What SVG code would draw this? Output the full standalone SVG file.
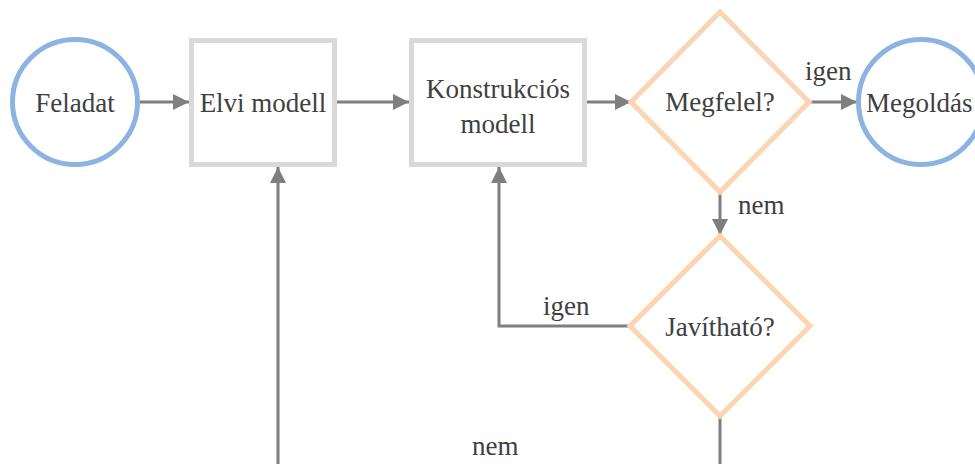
<svg xmlns="http://www.w3.org/2000/svg" width="975" height="464" viewBox="0 0 975 464">
<style>
.circ{fill:#fff;stroke:#8db3e2;stroke-width:5}
.box{fill:#fff;stroke:#d9d9d9;stroke-width:5}
.dia{fill:#fff;stroke:#fbd4b4;stroke-width:5}
.t{font-size:27px;fill:#404040;text-anchor:middle}
.lbl{font-size:27px;fill:#404040}
.c{fill:none;stroke:#7f7f7f;stroke-width:3}
</style>
<defs>
<marker id="ah" markerUnits="userSpaceOnUse" markerWidth="16" markerHeight="16" refX="16" refY="8" orient="auto">
<path d="M0,0 L16,8 L0,16 z" fill="#7f7f7f"/>
</marker>
</defs>
<rect width="975" height="464" fill="#fff"/>
<g id="connectors">
<line class="c" x1="140" y1="102" x2="189" y2="102" marker-end="url(#ah)"/>
<line class="c" x1="337" y1="102" x2="409" y2="102" marker-end="url(#ah)"/>
<line class="c" x1="587" y1="102" x2="631" y2="102" marker-end="url(#ah)"/>
<line class="c" x1="810" y1="102" x2="857" y2="102" marker-end="url(#ah)"/>
<line class="c" x1="720" y1="192" x2="720" y2="235" marker-end="url(#ah)"/>
<polyline class="c" points="630,326 499,326 499,167" marker-end="url(#ah)"/>
<polyline class="c" points="720,416 720,470 278,470 278,167" marker-end="url(#ah)"/>
<g font-family="Liberation Serif, Times New Roman, serif">
<text class="lbl" x="805" y="80">igen</text>
<text class="lbl" x="738" y="214">nem</text>
<text class="lbl" x="543" y="315">igen</text>
<text class="lbl" x="472" y="455">nem</text>
</g>
</g>
<g font-family="Liberation Serif, Times New Roman, serif">
<g id="feladat">
<circle class="circ" cx="75" cy="102" r="62.5"/>
<text class="t" x="75" y="112">Feladat</text>
</g>
<g id="elvi">
<rect class="box" x="191.5" y="40.5" width="143" height="124"/>
<text class="t" x="263" y="112">Elvi modell</text>
</g>
<g id="konstrukcios">
<rect class="box" x="411.5" y="40.5" width="173" height="124"/>
<text class="t" x="498" y="98">Konstrukciós</text>
<text class="t" x="498" y="133">modell</text>
</g>
<g id="megfelel">
<polygon class="dia" points="720,12 809,102 720,192 631,102"/>
<text class="t" x="720" y="111">Megfelel?</text>
</g>
<g id="megoldas">
<circle class="circ" cx="921" cy="102" r="62.5"/>
<text class="lbl" x="866" y="112">Megoldás</text>
</g>
<g id="javithato">
<polygon class="dia" points="720,236 810,326 720,416 630,326"/>
<text class="t" x="720" y="336">Javítható?</text>
</g>
</g>
</svg>
